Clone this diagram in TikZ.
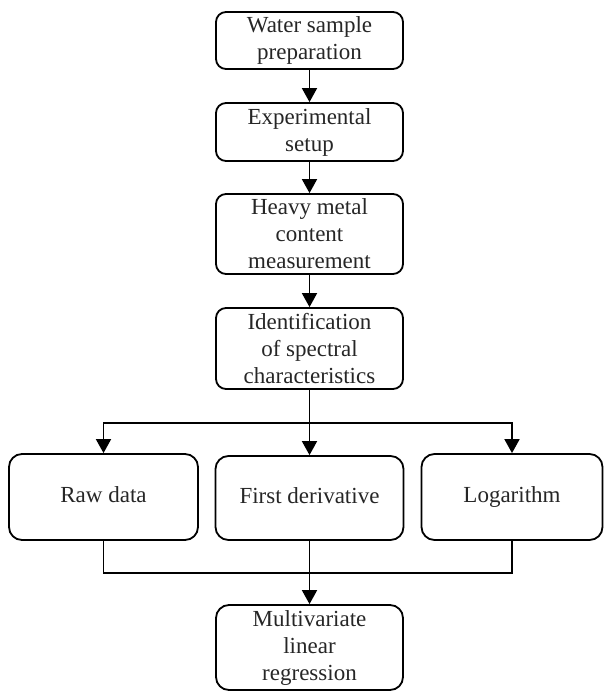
\documentclass[tikz,border=0pt]{standalone}
\usepackage{fontspec}
\setmainfont{Liberation Serif}
\usetikzlibrary{arrows.meta}
\begin{document}
\begin{tikzpicture}[x=1pt,y=-1pt,
  box/.style={draw,line width=1.8pt,rounded corners=10pt,align=center,
    inner sep=0pt,font=\fontsize{23}{27}\selectfont,text=black!85},
  single/.style={box,rounded corners=13pt,text height=16pt,text depth=5pt},
  conn/.style={line width=1.8pt},
  arr/.style={conn,-{Triangle[length=14pt,width=15pt]}}]
\useasboundingbox (0,0) rectangle (603,692);
\node[box,minimum width=187pt,minimum height=57pt] (b1) at (309.5,40.5) {Water sample\\preparation};
\node[box,minimum width=187pt,minimum height=58pt] (b2) at (309.5,132) {Experimental\\setup};
\node[box,minimum width=187pt,minimum height=80pt] (b3) at (309.5,234) {Heavy metal\\content\\measurement};
\node[box,minimum width=187pt,minimum height=81pt] (b4) at (309.5,348.5) {Identification\\of spectral\\characteristics};
\node[single,minimum width=189pt,minimum height=86pt] (raw) at (103.5,497) {Raw data};
\node[single,minimum width=188pt,minimum height=84pt] (fd) at (309.5,498) {First derivative};
\node[single,minimum width=181pt,minimum height=86pt] (lg) at (512,497) {Logarithm};
\node[box,minimum width=187pt,minimum height=85pt,rounded corners=13pt] (mlr) at (309.5,647.5) {Multivariate\\linear\\regression};
\coordinate (split) at (309.5,423);
\coordinate (merge) at (309.5,573);
\draw[arr] (b1) -- (b2);
\draw[arr] (b2) -- (b3);
\draw[arr] (b3) -- (b4);
\draw[arr] (b4) -- (fd);
\draw[arr] (split) -| (raw);
\draw[arr] (split) -| (lg);
\draw[conn] (raw.south) |- (merge);
\draw[conn] (lg.south) |- (merge);
\draw[arr] (fd) -- (mlr);
\end{tikzpicture}
\end{document}
